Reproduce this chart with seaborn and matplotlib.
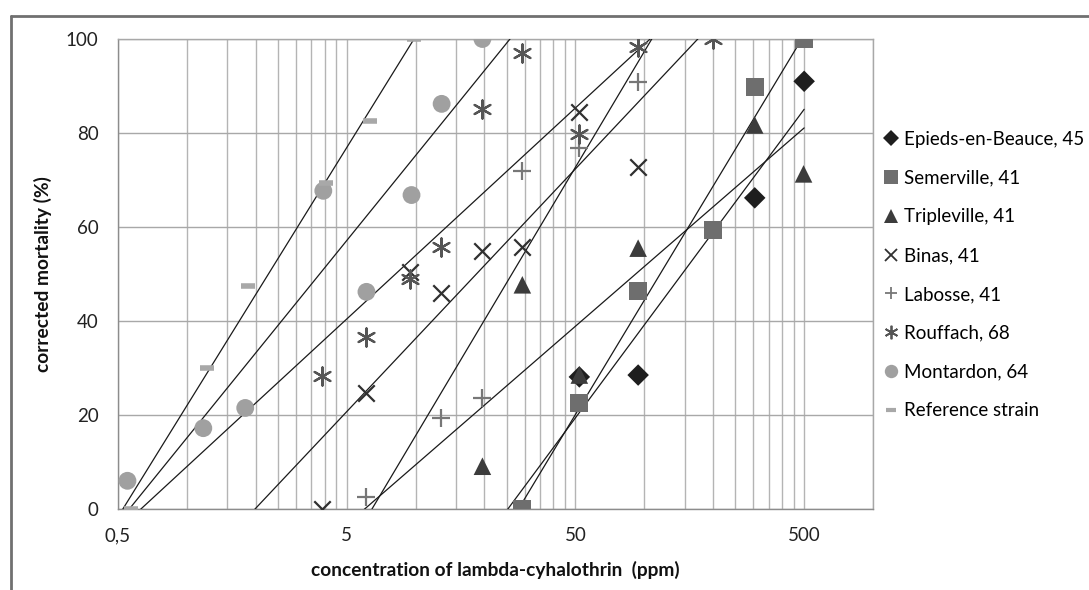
import numpy as np
import matplotlib
matplotlib.use("Agg")
import matplotlib.pyplot as plt
import seaborn as sns
from matplotlib.lines import Line2D
from matplotlib.ticker import FixedLocator, NullFormatter

# values
epieds_x=[52,94,304,500]
epieds_y=[28.1,28.5,66.2,91]
semerville_x=[29.3,52,94,200,305,500]
semerville_y=[0,22.5,46.4,59.4,89.8,100]
tripleville_x=[19.6,29.3,52,94,304,497]
tripleville_y=[9.1,47.7,28.5,55.5,81.7,71.3]
binas_x=[3.9,6.1,9.5,12.9,19.6,29.3,52,94]
binas_y=[0,24.6,50.4,45.9,54.9,55.8,84.5,72.8]
labosse_x=[6.1,12.9,19.6,29.3,52,94]
labosse_y=[2.6,19.4,23.6,71.9,76.8,90.8]
rouffach_x=[3.9,6.1,9.5,12.9,19.6,29.3,52,94,199]
rouffach_y=[28.3,36.6,48.9,55.8,85.2,97,79.7,98.2,100]
montardon_x=[0.55,1.18,1.8,3.95,6.1,9.6,13,19.6]
montardon_y=[6,17.2,21.5,67.7,46.2,66.8,86.2,100]
reference_x=[0.57,1.23,1.85,4.07,6.3,9.8]
reference_y=[0,30,47.4,69.4,82.5,100]

labels=["Epieds-en-Beauce, 45","Semerville, 41","Tripleville, 41","Binas, 41",
        "Labosse, 41","Rouffach, 68","Montardon, 64","Reference strain"]
series=[(epieds_x,epieds_y),(semerville_x,semerville_y),(tripleville_x,tripleville_y),
        (binas_x,binas_y),(labosse_x,labosse_y),(rouffach_x,rouffach_y),
        (montardon_x,montardon_y),(reference_x,reference_y)]
markers=["D","s","^","x","+",(6,2,0),"o","_"]
colors=["#1e1e1e","#6e6e6e","#3c3c3c","#303030","#777777","#555555","#a0a0a0","#a8a8a8"]
sizes=[120,170,160,140,150,170,165,110]

sns.set_style("white")
plt.rcParams["font.family"]=["Lato","DejaVu Sans"]

fig=plt.figure(figsize=(10.89,5.90),dpi=100)
ax=fig.add_axes([118/1089,81/590,755/1089,470/590])

# logarithmic trend lines (Excel style), over the whole concentration range
xline=np.logspace(np.log10(0.5),np.log10(500),200)
for (xs,ys) in series:
    a,b=np.polyfit(np.log(xs),ys,1)
    ax.plot(xline,a*np.log(xline)+b,color="#1a1a1a",lw=0.9,zorder=3)

for (xs,ys),m,c,s in zip(series,markers,colors,sizes):
    filled=m not in ["x","+",(6,2,0),"_"]
    if filled:
        sns.scatterplot(x=xs,y=ys,marker=m,color=c,s=s,ax=ax,edgecolor="none",zorder=4)
    else:
        lw=4 if m=="_" else 1.6
        sns.scatterplot(x=xs,y=ys,marker=m,color=c,s=s,ax=ax,linewidth=lw,zorder=4)

ax.set_xscale("log")
ax.set_xlim(0.5,1000)
ax.set_ylim(0,100)
ax.set_xticks([0.5,5,50,500])
ax.set_xticklabels(["0,5","5","50","500"])
minor=[k*0.5*10**n for n in range(0,3) for k in range(2,10)]+[1000]
ax.xaxis.set_minor_locator(FixedLocator(minor))
ax.xaxis.set_minor_formatter(NullFormatter())
ax.set_yticks([0,20,40,60,80,100])
ax.grid(which="both",axis="x",color="#b4b4b4",lw=1)
ax.grid(which="major",axis="y",color="#a8a8a8",lw=1)
ax.set_axisbelow(True)
ax.tick_params(axis="x",which="major",length=6,width=1,color="#909090",direction="out",pad=7,labelsize=13.5,labelcolor="#222222")
ax.tick_params(axis="x",which="minor",length=0)
ax.tick_params(axis="y",length=0,pad=14,labelsize=13.5,labelcolor="#222222")
for sp in ax.spines.values():
    sp.set_color("#a8a8a8")
    sp.set_linewidth(1)
ax.spines["bottom"].set_color("#8c8c8c")
ax.spines["left"].set_color("#8c8c8c")

ax.set_xlabel("concentration of lambda-cyhalothrin  (ppm)",fontsize=13.8,fontweight="bold",color="#111111",labelpad=12)
ax.set_ylabel("corrected mortality (%)",fontsize=13.8,fontweight="bold",color="#111111",labelpad=10)

handles=[]
for m,c,s in zip(markers,colors,sizes):
    filled=m not in ["x","+",(6,2,0),"_"]
    ms=np.sqrt(s)*0.75
    if filled:
        handles.append(Line2D([],[],ls="none",marker=m,color=c,markersize=ms,markeredgewidth=0))
    else:
        handles.append(Line2D([],[],ls="none",marker=m,color=c,markersize=ms,markeredgewidth=3 if m=="_" else 1.3))
fig.legend(handles,labels,loc="upper left",bbox_to_anchor=(866/1089,1-114/590),frameon=False,
           fontsize=13.5,handlelength=0.9,handletextpad=0.2,labelspacing=1.16,labelcolor="#000000")

# outer chart frame
fig.add_artist(Line2D([11/1089,11/1089],[-0.1,1-16/590],color="#707070",lw=2))
fig.add_artist(Line2D([11/1089,1.1],[1-16/590,1-16/590],color="#707070",lw=2))

fig.savefig("out.png",dpi=100)
